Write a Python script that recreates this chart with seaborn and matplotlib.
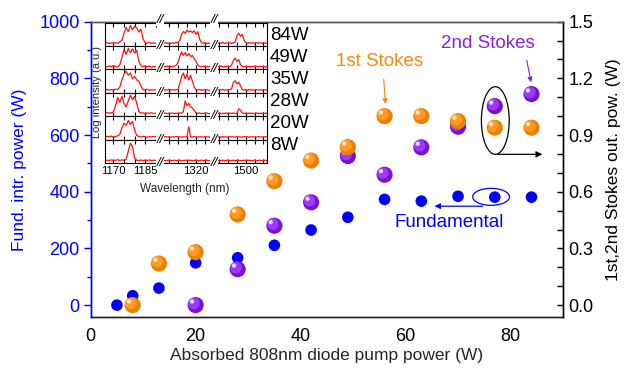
import numpy as np
import pandas as pd
import matplotlib
matplotlib.use("Agg")
import matplotlib.pyplot as plt
from matplotlib.patches import Ellipse
from matplotlib.transforms import ScaledTranslation
from matplotlib.ticker import MultipleLocator, FixedLocator, NullFormatter
import seaborn as sns

# ---------------- data ----------------
pump_fund = [5, 8, 13, 20, 28, 35, 42, 49, 56, 63, 70, 77, 84]
fund_power = [0, 33, 60, 149, 167, 211, 265, 310, 373, 367, 384, 381, 381]

pump_s1 = [8, 13, 20, 28, 35, 42, 49, 56, 63, 70, 77, 84]
s1_power = [0.0, 0.22, 0.28, 0.48, 0.656, 0.765, 0.836, 1.0, 1.0, 0.974, 0.939, 0.939]

pump_s2 = [20, 28, 35, 42, 49, 56, 63, 70, 77, 84]
s2_power = [0.0, 0.19, 0.42, 0.544, 0.789, 0.69, 0.835, 0.944, 1.053, 1.117]

row_labels = ["84W", "49W", "35W", "28W", "20W", "8W"]

wl_seg1 = list(range(1166, 1193))   # 27 pts
wl_seg2 = list(range(1300, 1331))   # 31 pts
wl_seg3 = list(range(1482, 1513))   # 31 pts

seg1_84 = [0.12,0.16,0.10,0.14,0.12,0.15,0.11,0.18,0.25,0.55,0.80,0.62,0.88,0.70,0.85,0.78,0.60,0.72,0.30,0.15,0.12,0.16,0.11,0.14,0.12,0.15,0.11]
seg1_49 = [0.14,0.11,0.15,0.12,0.16,0.13,0.11,0.20,0.50,0.85,0.65,0.90,0.72,0.88,0.70,0.82,0.35,0.16,0.12,0.15,0.11,0.14,0.10,0.13,0.12,0.16,0.12]
seg1_35 = [0.12,0.15,0.11,0.14,0.12,0.16,0.14,0.25,0.55,0.80,0.92,0.75,0.85,0.60,0.70,0.55,0.50,0.30,0.14,0.12,0.15,0.11,0.13,0.12,0.14,0.11,0.13]
seg1_28 = [0.13,0.16,0.12,0.15,0.18,0.45,0.80,0.60,0.85,0.55,0.40,0.65,0.90,0.70,0.85,0.55,0.20,0.13,0.15,0.11,0.14,0.12,0.15,0.11,0.13,0.12,0.14]
seg1_20 = [0.11,0.14,0.12,0.15,0.11,0.13,0.16,0.22,0.50,0.70,0.60,0.82,0.65,0.78,0.40,0.18,0.13,0.11,0.14,0.12,0.10,0.13,0.11,0.14,0.12,0.10,0.13]
seg1_8 = [0.10,0.12,0.11,0.13,0.10,0.12,0.14,0.11,0.13,0.12,0.15,0.50,0.85,0.70,0.20,0.12,0.11,0.13,0.10,0.12,0.11,0.13,0.10,0.12,0.11,0.10,0.12]

seg2_84 = [0.12,0.14,0.11,0.15,0.12,0.13,0.11,0.14,0.12,0.16,0.15,0.25,0.50,0.62,0.55,0.68,0.60,0.65,0.58,0.66,0.50,0.62,0.30,0.15,0.12,0.14,0.11,0.13,0.12,0.14,0.12]
seg2_49 = [0.13,0.11,0.14,0.12,0.15,0.11,0.13,0.12,0.14,0.18,0.30,0.55,0.75,0.60,0.72,0.58,0.68,0.55,0.60,0.45,0.35,0.18,0.13,0.11,0.14,0.12,0.13,0.11,0.14,0.12,0.13]
seg2_35 = [0.12,0.14,0.11,0.13,0.12,0.15,0.11,0.14,0.12,0.13,0.15,0.40,0.70,0.85,0.60,0.80,0.55,0.75,0.50,0.25,0.14,0.12,0.15,0.11,0.13,0.12,0.14,0.11,0.13,0.12,0.14]
seg2_28 = [0.11,0.13,0.12,0.14,0.11,0.13,0.12,0.14,0.11,0.13,0.12,0.14,0.13,0.20,0.65,0.45,0.55,0.40,0.35,0.25,0.15,0.12,0.14,0.11,0.13,0.12,0.14,0.11,0.12,0.13,0.11]
seg2_20 = [0.11,0.12,0.10,0.13,0.11,0.12,0.10,0.12,0.11,0.13,0.11,0.12,0.10,0.12,0.11,0.13,0.55,0.12,0.11,0.13,0.10,0.12,0.11,0.12,0.10,0.13,0.11,0.12,0.10,0.12,0.11]
seg2_8 = [0.10,0.11,0.12,0.10,0.11,0.12,0.10,0.11,0.12,0.10,0.11,0.12,0.10,0.11,0.12,0.10,0.11,0.12,0.10,0.11,0.12,0.10,0.11,0.12,0.10,0.11,0.12,0.10,0.11,0.12,0.10]

seg3_84 = [0.12,0.15,0.11,0.14,0.12,0.16,0.11,0.14,0.12,0.15,0.11,0.14,0.18,0.45,0.55,0.42,0.50,0.25,0.14,0.11,0.15,0.12,0.14,0.11,0.15,0.12,0.14,0.11,0.15,0.12,0.14]
seg3_49 = [0.13,0.11,0.14,0.12,0.15,0.11,0.13,0.12,0.14,0.11,0.20,0.40,0.48,0.35,0.42,0.20,0.13,0.11,0.14,0.12,0.13,0.11,0.14,0.12,0.13,0.11,0.14,0.12,0.13,0.11,0.14]
seg3_35 = [0.12,0.14,0.11,0.13,0.12,0.15,0.11,0.13,0.12,0.14,0.18,0.45,0.52,0.38,0.46,0.30,0.14,0.12,0.13,0.11,0.14,0.12,0.13,0.11,0.14,0.12,0.13,0.11,0.14,0.12,0.13]
seg3_28 = [0.11,0.13,0.12,0.14,0.11,0.13,0.12,0.14,0.11,0.13,0.12,0.14,0.11,0.13,0.32,0.25,0.14,0.12,0.13,0.11,0.14,0.12,0.13,0.11,0.14,0.12,0.13,0.11,0.14,0.12,0.13]
seg3_20 = [0.10,0.13,0.11,0.12,0.10,0.13,0.11,0.12,0.10,0.13,0.11,0.12,0.10,0.13,0.11,0.12,0.10,0.13,0.11,0.12,0.10,0.13,0.11,0.12,0.10,0.13,0.11,0.12,0.10,0.13,0.11]
seg3_8 = [0.10,0.11,0.12,0.10,0.11,0.12,0.10,0.11,0.12,0.10,0.11,0.12,0.10,0.11,0.12,0.10,0.11,0.12,0.10,0.11,0.12,0.10,0.11,0.12,0.10,0.11,0.12,0.10,0.11,0.12,0.10]

seg_wl = [wl_seg1, wl_seg2, wl_seg3]
seg_xlim = [(1166, 1192), (1300, 1330), (1482, 1512)]
seg_ticks = [[1170, 1175, 1180, 1185, 1190], [1305, 1310, 1315, 1320, 1325], [1485, 1490, 1495, 1500, 1505, 1510]]
seg_labels = [{1170: "1170", 1185: "1185"}, {1320: "1320"}, {1500: "1500"}]
spectra = [
    [seg1_84, seg2_84, seg3_84],
    [seg1_49, seg2_49, seg3_49],
    [seg1_35, seg2_35, seg3_35],
    [seg1_28, seg2_28, seg3_28],
    [seg1_20, seg2_20, seg3_20],
    [seg1_8, seg2_8, seg3_8],
]

# ---------------- style ----------------
sns.set_style("white")
plt.rcParams["font.family"] = ["Liberation Sans", "DejaVu Sans"]

BLUE = "#0000FF"
ORANGE = "#F7880F"
PURPLE = "#8A1FE6"
W, H = 629, 375
DPI = 100

fig = plt.figure(figsize=(W / DPI, H / DPI), dpi=DPI)
fig.patch.set_facecolor("white")

def fx(px):
    return px / W

def fy(py):
    return 1 - py / H

L, R, T, B = 90.7, 563, 21.7, 317
ax = fig.add_axes([fx(L), fy(B), fx(R) - fx(L), fy(T) - fy(B)])
ax2 = ax.twinx()

ax.set_xlim(0, 90)
ax.set_ylim(-42, 1000)
ax2.set_ylim(-0.063, 1.5)

# blue fundamental dots
df_f = pd.DataFrame({"pump": pump_fund, "power": fund_power})
sns.scatterplot(data=df_f, x="pump", y="power", ax=ax, color=BLUE, s=70,
                edgecolor="none", zorder=3, legend=False)

def sphere(axis, x, y, base, mid, light):
    df = pd.DataFrame({"x": x, "y": y})
    sns.scatterplot(data=df, x="x", y="y", ax=axis, color=base, s=135,
                    edgecolor="none", legend=False, zorder=4)
    sns.scatterplot(data=df, x="x", y="y", ax=axis, color=mid, s=70,
                    edgecolor="none", legend=False, zorder=4)
    axis.collections[-1].set_offset_transform(
        axis.transData + ScaledTranslation(-1.2 / 72, 1.2 / 72, fig.dpi_scale_trans))
    sns.scatterplot(data=df, x="x", y="y", ax=axis, color=light, s=10,
                    edgecolor="none", legend=False, zorder=4)
    axis.collections[-1].set_offset_transform(
        axis.transData + ScaledTranslation(-2.6 / 72, 2.6 / 72, fig.dpi_scale_trans))

sphere(ax2, pump_s2, s2_power, "#7A10D8", "#9A3CF5", "#E8D0FF")
sphere(ax2, pump_s1, s1_power, "#EE7E00", "#FF9A22", "#FFE6C0")

# axes styling
for a in (ax, ax2):
    for s in a.spines.values():
        s.set_linewidth(1.0)
ax.spines["left"].set_color(BLUE)
ax.spines["top"].set_color("#555555")
ax.spines["bottom"].set_color("black")
ax2.spines["left"].set_color(BLUE)
ax2.spines["right"].set_color("black")
ax2.spines["top"].set_color("#555555")

ax.xaxis.set_major_locator(MultipleLocator(20))
ax.xaxis.set_minor_locator(MultipleLocator(10))
ax.yaxis.set_major_locator(MultipleLocator(200))
ax.yaxis.set_minor_locator(MultipleLocator(100))
ax2.yaxis.set_major_locator(MultipleLocator(0.3))
ax2.yaxis.set_minor_locator(MultipleLocator(0.1))
ax2.yaxis.set_major_formatter(matplotlib.ticker.FormatStrFormatter("%.1f"))

ax.tick_params(axis="x", which="major", direction="out", length=5, width=1,
               labelsize=13, colors="black", pad=3, top=False)
ax.tick_params(axis="x", which="minor", direction="out", length=3, width=1, top=False)
ax.tick_params(axis="y", which="major", direction="out", length=5, width=1,
               labelsize=13, colors=BLUE, pad=3)
ax.tick_params(axis="y", which="minor", direction="out", length=3, width=1, colors=BLUE)
ax2.tick_params(axis="y", which="both", direction="in", length=4, width=1,
                labelsize=13, colors="black", pad=4)

ax.set_xlabel("Absorbed 808nm diode pump power (W)", fontsize=12.5, labelpad=2)
ax.set_ylabel("Fund. intr. power (W)", fontsize=12.5, color=BLUE, labelpad=9)
ax2.set_ylabel("1st,2nd Stokes out. pow. (W)", fontsize=12.5, color="black", labelpad=9)

# annotations (main)
ax2.text(55.1, 1.287, "1st Stokes", color=ORANGE, fontsize=13.5, ha="center", va="center")
ax2.annotate("", xy=(56.2, 1.05), xytext=(55.8, 1.21),
             arrowprops=dict(arrowstyle="-|>", color=ORANGE, lw=0.8,
                             mutation_scale=7))
ax2.text(75.6, 1.385, "2nd Stokes", color=PURPLE, fontsize=13.5, ha="center", va="center")
ax2.annotate("", xy=(84.0, 1.165), xytext=(83.0, 1.31),
             arrowprops=dict(arrowstyle="-|>", color=PURPLE, lw=0.8,
                             mutation_scale=7))
ax2.add_patch(Ellipse((77.1, 0.977), 5.3, 0.358, fill=False, ec="black", lw=0.9, zorder=5))
ax2.annotate("", xy=(86.6, 0.798), xytext=(77.1, 0.798),
             arrowprops=dict(arrowstyle="-|>", color="black", lw=0.9,
                             mutation_scale=9), zorder=5)

ax.add_patch(Ellipse((76.3, 382), 7.0, 60, fill=False, ec=BLUE, lw=0.9, zorder=5))
ax.annotate("", xy=(65.0, 349), xytext=(75.2, 349),
            arrowprops=dict(arrowstyle="-|>", color=BLUE, lw=0.9,
                            mutation_scale=8), zorder=5)
ax.text(68.4, 292, "Fundamental", color=BLUE, fontsize=13.5, ha="center", va="center")

# ---------------- inset ----------------
IL, IT, IB = 105, 22.7, 163
col_edges = [105, 160, 214, 267]
row_h = (IB - IT) / 6
for r in range(6):
    for c in range(3):
        x0, x1 = col_edges[c], col_edges[c + 1]
        y0 = IT + r * row_h
        y1 = y0 + row_h
        a = fig.add_axes([fx(x0), fy(y1), fx(x1) - fx(x0), fy(y0) - fy(y1)])
        a.set_facecolor("white")
        sns.lineplot(x=seg_wl[c], y=spectra[r][c], ax=a, color="#FF1010",
                     lw=0.9, estimator=None, sort=False)
        a.set_xlim(*seg_xlim[c])
        a.set_ylim(0, 1)
        a.set_xlabel("")
        a.set_ylabel("")
        a.set_yticks([])
        a.xaxis.set_major_locator(FixedLocator(seg_ticks[c]))
        if r == 5:
            a.set_xticklabels([seg_labels[c].get(t, "") for t in seg_ticks[c]])
        else:
            a.xaxis.set_major_formatter(NullFormatter())
        a.tick_params(axis="x", direction="in", length=3, width=0.8, top=True,
                      bottom=True, labelsize=8.2, pad=2, colors="black")
        for nm, s in a.spines.items():
            s.set_color("black")
            s.set_linewidth(0.8)
        a.spines["left"].set_visible(c == 0)
        a.spines["right"].set_visible(c == 2)

# break marks "//" drawn on top of everything
for bx in col_edges[1:3]:
    for r in range(7):
        yy = IT + r * row_h
        fig.text(fx(bx), fy(yy + (0 if r else -3)), "//", fontsize=9.5, ha="center",
                 va="center", color="black", style="italic",
                 bbox=dict(boxstyle="square,pad=0.02", fc="white", ec="none"),
                 zorder=20)

label_y = [35, 58, 80, 102, 124, 146]
for lab, yy in zip(row_labels, label_y):
    fig.text(fx(270), fy(yy), lab, fontsize=13.5, ha="left", va="center", color="black")

fig.text(fx(185), fy(189), "Wavelength (nm)", fontsize=8.5, ha="center", va="center")
fig.text(fx(97), fy(92), "Log intensity (a.u.)", fontsize=8, ha="center", va="center",
         rotation=90)

fig.savefig("out.png", dpi=DPI, facecolor="white")
